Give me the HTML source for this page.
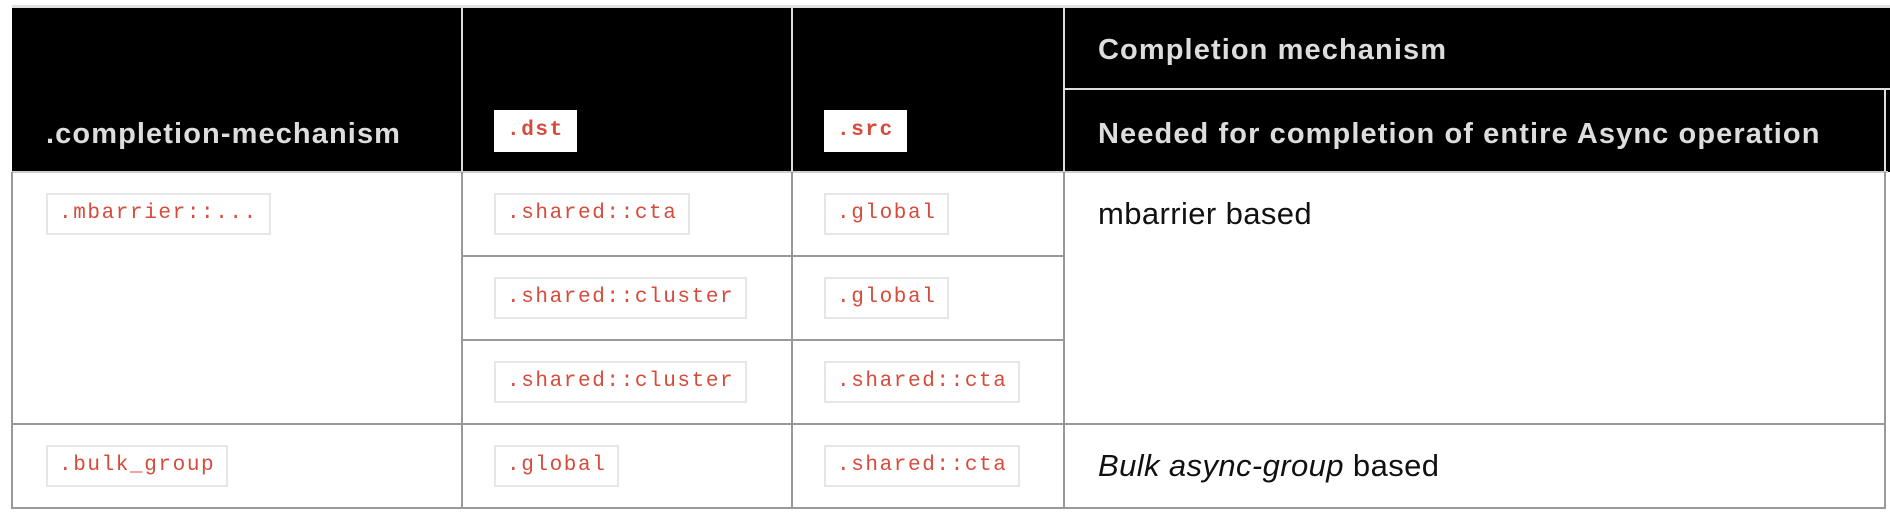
<!DOCTYPE html>
<html><head><style>
body{margin:0;width:1890px;height:516px;background:#fff;position:relative;overflow:hidden;font-family:"Liberation Sans",sans-serif}
.a{position:absolute}
.hd{position:absolute;background:#000}
.ht{position:absolute;color:#ddd;font-weight:bold;font-size:29px;letter-spacing:1.1px;white-space:nowrap}
.c{position:absolute;height:38px;line-height:38px;border:2px solid #e6e6e6;background:#fff;color:#d64b3b;font-family:"Liberation Mono",monospace;font-size:21px;padding:0 11px;white-space:nowrap;letter-spacing:1.6px}
.hc{border-color:#fff;font-weight:bold}
.vl{position:absolute;width:2px;background:#999}
.hl{position:absolute;height:2px;background:#999}
.bt{position:absolute;font-size:31px;letter-spacing:0.4px;color:#111;white-space:nowrap}
</style></head><body>
<div class="a" style="left:12px;top:5px;width:1878px;height:3px;background:#e0e0e0"></div>
<div class="hd" style="left:12px;top:8px;width:1878px;height:164px"></div>
<div class="a" style="left:461px;top:8px;width:2px;height:164px;background:#ddd"></div>
<div class="a" style="left:791px;top:8px;width:2px;height:164px;background:#ddd"></div>
<div class="a" style="left:1063px;top:8px;width:2px;height:164px;background:#ddd"></div>
<div class="a" style="left:1065px;top:88px;width:825px;height:2px;background:#ddd"></div>
<div class="a" style="left:1884px;top:90px;width:2px;height:82px;background:#ddd"></div>
<div class="ht" style="left:1098px;top:34px">Completion mechanism</div>
<div class="ht" style="left:46px;top:118px">.completion-mechanism</div>
<div class="ht" style="left:1098px;top:118px">Needed for completion of entire Async operation</div>
<div class="c hc" style="left:494px;top:110px">.dst</div>
<div class="c hc" style="left:824px;top:110px">.src</div>
<div class="a" style="left:12px;top:171px;width:1876px;height:2px;background:#ccc"></div>
<div class="vl" style="left:11px;top:172px;height:337px"></div>
<div class="vl" style="left:461px;top:172px;height:337px"></div>
<div class="vl" style="left:791px;top:172px;height:337px"></div>
<div class="vl" style="left:1063px;top:172px;height:337px"></div>
<div class="vl" style="left:1884px;top:172px;height:337px"></div>
<div class="hl" style="left:462px;top:255px;width:602px"></div>
<div class="hl" style="left:462px;top:339px;width:602px"></div>
<div class="hl" style="left:12px;top:423px;width:1874px"></div>
<div class="hl" style="left:11px;top:507px;width:1875px"></div>
<div class="c" style="left:46px;top:193px">.mbarrier::...</div>
<div class="c" style="left:494px;top:193px">.shared::cta</div>
<div class="c" style="left:824px;top:193px">.global</div>
<div class="bt" style="left:1098px;top:196px">mbarrier based</div>
<div class="c" style="left:494px;top:277px">.shared::cluster</div>
<div class="c" style="left:824px;top:277px">.global</div>
<div class="c" style="left:494px;top:361px">.shared::cluster</div>
<div class="c" style="left:824px;top:361px">.shared::cta</div>
<div class="c" style="left:46px;top:445px">.bulk_group</div>
<div class="c" style="left:494px;top:445px">.global</div>
<div class="c" style="left:824px;top:445px">.shared::cta</div>
<div class="bt" style="left:1098px;top:448px"><i>Bulk async-group</i> based</div>
</body></html>
